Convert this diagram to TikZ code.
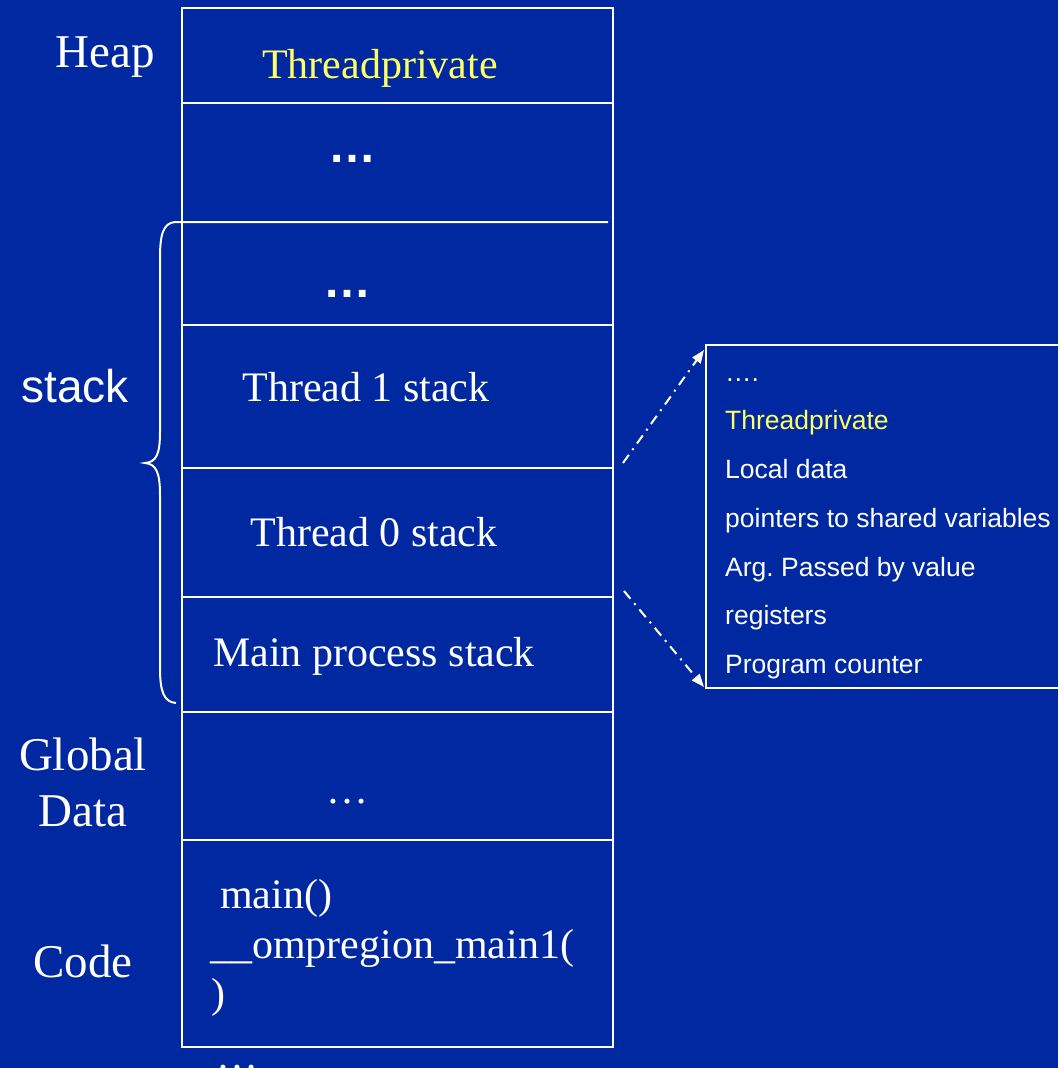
\documentclass[tikz,border=0pt]{standalone}
\usepackage{fontspec}
\setmainfont{Liberation Serif}
\setsansfont{Liberation Sans}
\usetikzlibrary{arrows.meta}
\definecolor{bgblue}{RGB}{0,40,160}
\definecolor{ltyellow}{RGB}{255,255,102}
\frenchspacing
\begin{document}
\begin{tikzpicture}[x=1pt,y=-1pt,
  rowbox/.style={draw=white,line width=1.8pt},
  serif/.style={text=white,font=\fontsize{42}{48}\selectfont,inner sep=0pt},
  lbl/.style={text=white,font=\fontsize{47}{56}\selectfont,inner sep=0pt},
  side/.style={text=white,font=\sffamily\fontsize{26.5}{30}\selectfont,inner sep=0pt,anchor=base west},
  dotsbold/.style={text=white,font=\sffamily\bfseries\fontsize{48}{52}\selectfont,inner sep=0pt,anchor=base},
  ddarrow/.style={draw=white,line width=2pt,dash pattern=on 10pt off 6pt on 2pt off 6pt,-{Triangle[length=13pt,width=10pt]}}
]
\fill[bgblue] (0,0) rectangle (1058,1068);
\clip (0,0) rectangle (1058,1068);
\useasboundingbox (0,0) rectangle (1058,1068);

% main column rows
\draw[rowbox] (182,8) rectangle (613,103);
\draw[rowbox] (182,103) rectangle (613,325);
\draw[rowbox] (182,325) rectangle (613,468);
\draw[rowbox] (182,468) rectangle (613,597);
\draw[rowbox] (182,597) rectangle (613,712);
\draw[rowbox] (182,712) rectangle (613,840);
\draw[rowbox] (182,840) rectangle (613,1047);

% brace with partial line
\draw[white,line width=2pt] (608,222) -- (175,222)
  .. controls (163,223) and (160,235) .. (160,258) -- (160,432)
  .. controls (160,455) and (156,462) .. (145,463)
  .. controls (156,464) and (160,472) .. (160,495) -- (160,668)
  .. controls (160,692) and (164,702) .. (176,703);

% texts in main column
\node[serif,text=ltyellow,anchor=base] (tp) at (380,78) {Threadprivate};
\node[dotsbold] (d1) at (352,162) {…};
\node[dotsbold] (d2) at (347,297) {…};
\node[serif,anchor=base] (t1) at (366,401) {Thread 1 stack};
\node[serif,anchor=base] (t0) at (374,546) {Thread 0 stack};
\node[serif,anchor=base] (mp) at (374,666) {Main process stack};
\node[serif,anchor=base] (gd) at (347,803) {…};
\node[serif,anchor=base west] (c1) at (220,908) {main()};
\node[serif,anchor=base west] (c2) at (210,958) {\_\_ompregion\_main1(};
\node[serif,anchor=base west] (c3) at (211,1007) {)};
\node[serif,anchor=base] (bot) at (237,1069) {…};

% left labels
\node[lbl,anchor=base] (heap) at (105,67) {Heap};
\node[lbl,anchor=base,font=\sffamily\fontsize{46}{54}\selectfont] (stk) at (75,402) {stack};
\node[lbl,anchor=base] (glob) at (83,770) {Global};
\node[lbl,anchor=base] (data) at (83,826) {Data};
\node[lbl,anchor=base] (code) at (83,977) {Code};

% right detail box
\draw[rowbox] (706,345) rectangle (1075,688);
\coordinate (boxtl) at (704,350);
\coordinate (boxbl) at (704,687);
\node[side] (s0) at (725,381) {….};
\node[side,text=ltyellow] (s1) at (725,429) {Threadprivate};
\node[side] (s2) at (725,478) {Local data};
\node[side] (s3) at (725,527) {pointers to shared variables};
\node[side] (s4) at (725,576) {Arg. Passed by value};
\node[side] (s5) at (725,624) {registers};
\node[side] (s6) at (725,673) {Program counter};

% connectors
\coordinate (a1) at (623,463);
\coordinate (a2) at (624,591);
\draw[ddarrow] (a1) -- (boxtl);
\draw[ddarrow] (a2) -- (boxbl);
\end{tikzpicture}
\end{document}
